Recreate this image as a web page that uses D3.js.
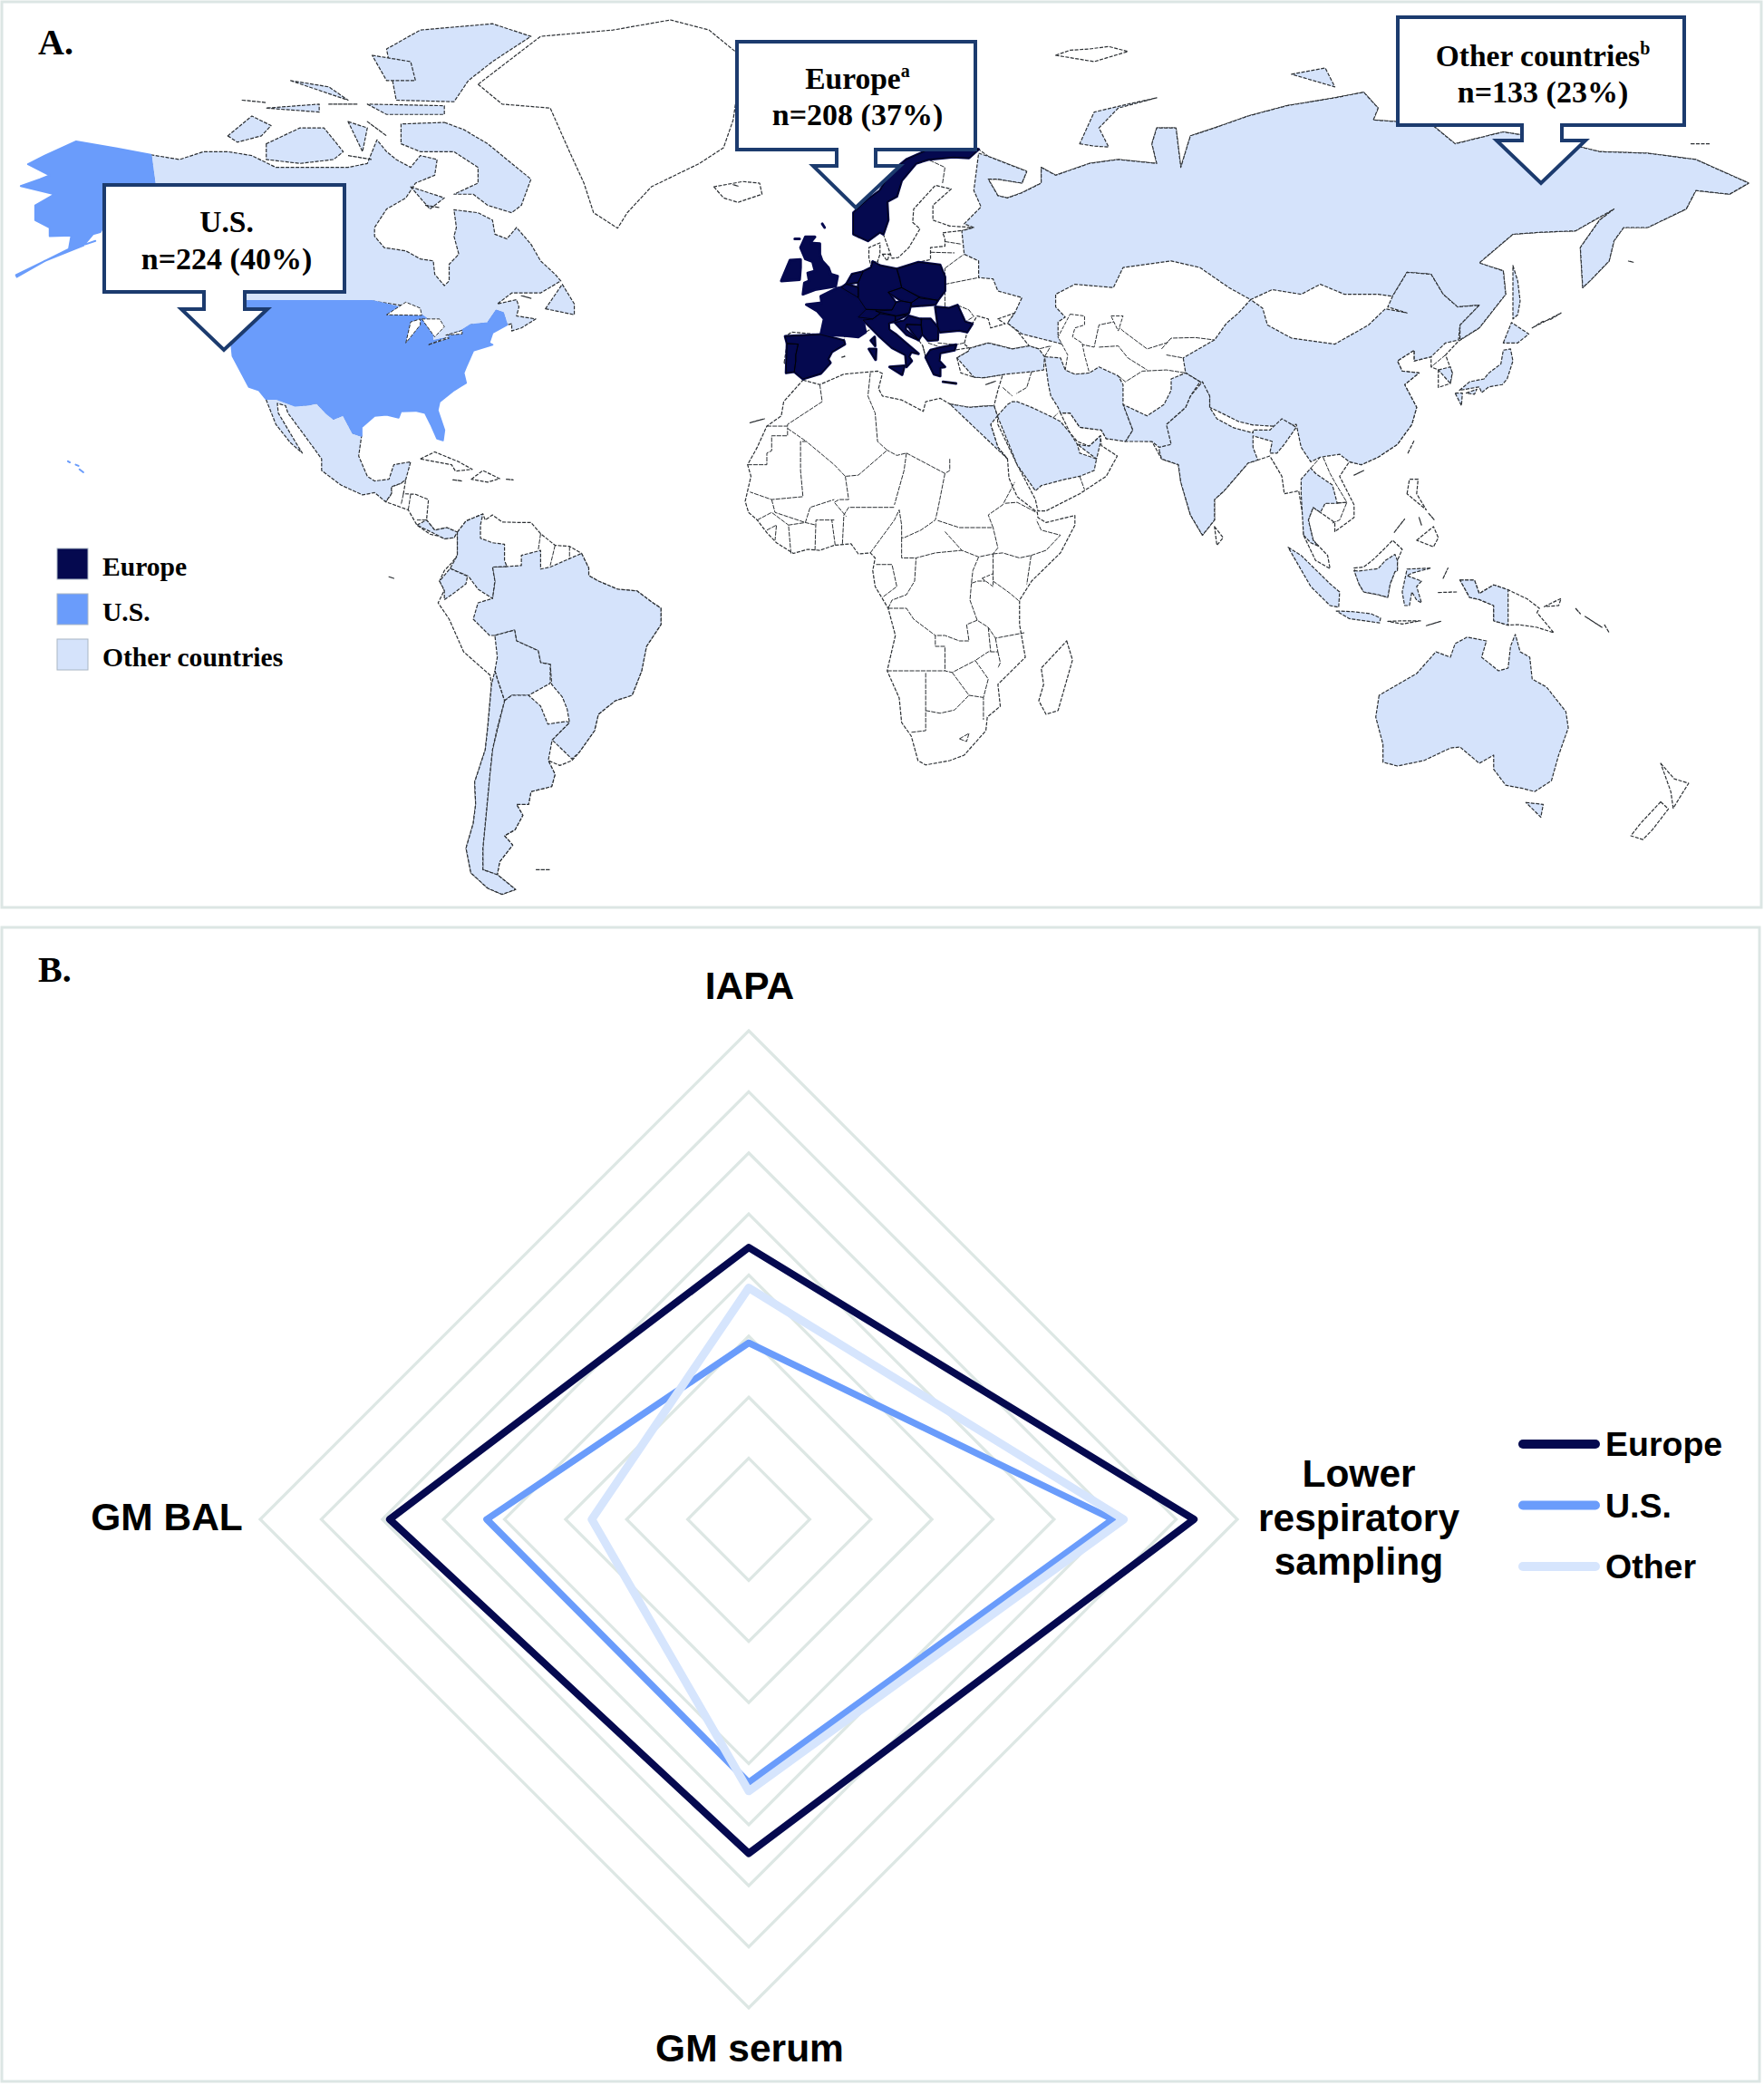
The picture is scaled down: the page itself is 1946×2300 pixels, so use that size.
<!DOCTYPE html>
<html>
<head>
<meta charset="utf-8">
<script src="https://cdn.jsdelivr.net/npm/d3@7"></script>
<style>
html, body { margin: 0; background: #fff; }
svg { display: block; }
.serif { font-family: "Liberation Serif", serif; font-weight: bold; fill: #000; }
.sans { font-family: "Liberation Sans", sans-serif; font-weight: bold; fill: #000; }
</style>
</head>
<body>
<svg id="chart" width="1946" height="2300"></svg>
<script>
// ---- radar data (percent of patients) ----
const axes = ["IAPA", "Lower respiratory sampling", "GM serum", "GM BAL"];
const europeValues = [44.5, 72.9, 54.7, 58.8];
const usValues = [28.9, 59.6, 43.1, 42.9];
const otherValues = [37.9, 61.4, 44.5, 25.7];
const ringLevels = [10, 20, 30, 40, 50, 60, 70, 80];

// ---- panel A legend and callout content ----
const mapLegend = ["Europe", "U.S.", "Other countries"];
const radarLegend = ["Europe", "U.S.", "Other"];

// ---- map outlines, [lon, lat] ----
const africa = [[-5.5,35.8],[-2,35],[3,36.8],[10,37.3],[11,36.9],[10.2,34.3],[11,33],[15,32.3],[19.5,30.3],[20,32],[23,32.6],[25,31.6],[29,31],[32,31.2],[34.2,31.3],[33.5,28],[35,24],[37,22],[37.3,18.7],[39,15.5],[43.2,12.5],[43.3,11.5],[45,10.5],[51,11.9],[51,10],[48,4.5],[42,-1],[39.5,-4.5],[39.5,-9],[40.7,-15],[35,-20],[35.5,-24],[32.8,-26],[32.5,-28.5],[28,-33],[25,-34],[20,-34.8],[18.4,-34],[17,-29.5],[15,-27],[14.5,-22.5],[12,-17.5],[13.7,-11],[12.2,-6],[9.5,-2],[9,1],[9.5,3.5],[8.5,4.5],[6,4.3],[4.5,6.3],[1,6],[-2,5],[-4.5,5.2],[-7.5,4.4],[-11,6.5],[-13,8.5],[-15,11],[-16.8,12.5],[-17.5,14.7],[-16.3,19],[-17,21],[-15,24],[-13,27.7],[-10,29.5],[-9.5,32],[-6.8,34]];
const eurasia = [[-9.4,38.7],[-8.8,41.9],[-9.2,43.1],[-7.8,43.8],[-1.8,43.4],[-1.1,46],[-2.5,47.3],[-4.8,48.4],[-1.6,48.7],[-1.8,49.7],[1.5,50.9],[3.5,51.5],[4.7,53],[7,53.4],[8.7,54],[8.2,55.5],[8.2,57],[10.5,57.7],[10.5,56],[10,54.9],[10.5,54.3],[14,53.8],[18.5,54.8],[21,55.2],[21,57],[24,57.2],[24,58.4],[23.5,59.2],[28,59.6],[30,60],[25,60.2],[21.5,61],[21.5,63],[25.3,65.2],[22,65.7],[17.5,62.5],[17.3,60.7],[18.8,59.8],[16.5,57],[14.3,55.5],[13,55.4],[11.2,59],[10.5,59.3],[8,58],[5.5,58.7],[5,62],[8,63.8],[10.5,65],[13,67.5],[16,69],[20,70.1],[25,71.1],[31,70.3],[33,69.4],[41,67.5],[40,66],[35,66.5],[33,66.5],[35,64.3],[37,64],[40,64.7],[44,66],[44,68],[47,67],[54,68.5],[60,69],[68,68.5],[67,71],[68,73],[72,73],[73,68],[75,72],[80,73],[87,74.5],[95,75.8],[105,76.8],[111,77.5],[114,75.5],[113,74],[125,73.5],[130,71],[140,72.5],[150,71.5],[160,70],[170,69.8],[180,69],[191,66],[187,64.5],[180,65],[178,62.5],[170,60],[165,60],[163,58],[162,55],[158,52],[156.5,51],[156,57],[160,61],[163,62.5],[155,59.5],[148,59.3],[142,59],[135,54.7],[140,53.5],[140.5,50],[135,44.5],[130.7,42.3],[128,40],[129.4,37],[129,35.2],[126.5,34.5],[126.5,37.5],[125,38],[125,39.7],[121.5,39],[121.5,40.8],[118,39],[119,37.3],[122.5,37],[119.5,35],[122,31],[121,28],[118,24.5],[114,22.3],[110.5,21],[108,21.5],[106,19],[109,14],[109,11.5],[105,8.7],[105,10.5],[102,12.5],[100.5,13.5],[99.5,11],[100.5,7],[103.5,4],[104,1.4],[101,3],[98.5,8],[98.5,11],[97.5,16.5],[94.5,16],[94,19],[91.5,22.5],[89,21.8],[87,21.3],[82,16.5],[80,15],[80,11],[77.5,8],[75,12],[73,18],[72.5,21],[69,22],[67,25],[62,25.2],[57.5,25.5],[56.5,27],[52,27.5],[50,30],[48,30],[50,26.5],[51.5,25],[54,24.2],[56.3,26],[56.5,24.3],[59.8,22.5],[57.5,19],[52,16],[45,12.8],[43.3,12.8],[42.8,15],[39,21],[35,28],[34.9,29.5],[34.2,31.3],[35,34],[36,36.7],[32,36.2],[30,36.3],[27.3,37],[26.5,39.5],[29,40.7],[29.1,41.1],[33,42],[38,41],[41.5,41.5],[39,44],[37,45.3],[38.5,47],[35,46],[36.5,45.2],[33.5,44.5],[33,46],[30.7,46.5],[28.6,43.8],[28,41.8],[29,41.2],[26,40.8],[23,40.3],[22.8,39],[24,38],[23,37.9],[23,36.5],[21.7,36.8],[21.2,38.3],[20,39.6],[19.4,41.5],[18.5,42.5],[16,43.4],[14.8,45],[13.6,45.4],[12.3,45.3],[12.4,44.2],[13.7,43.5],[16,41.9],[18.5,40.2],[17,40.5],[16.5,39.7],[17.1,39],[16,38],[15.8,40],[13,41.2],[10.5,43],[8.8,44.4],[7.5,43.8],[6,43],[3.2,43.2],[3,42.4],[3.2,41.8],[0.5,40.5],[-0.3,39.3],[0.2,38.7],[-1.8,36.9],[-5.5,36],[-7.3,37.2],[-9,37]];
const southAmerica = [[-77.3,8.6],[-75.5,10.8],[-72,12.2],[-71.5,11],[-70,12],[-68,10.6],[-64,10.5],[-62,10.5],[-60,8.3],[-57,6],[-54,5.8],[-51.5,4.4],[-50,1.5],[-50,0],[-48,-1],[-44,-2.5],[-40,-2.8],[-37,-4.8],[-35,-6],[-35,-9],[-38,-13],[-39,-17.5],[-41,-22],[-44.5,-23],[-48,-25.5],[-48.8,-28.5],[-52,-32.5],[-53.5,-34],[-56,-34.9],[-58.4,-34],[-57,-36.3],[-57.7,-38.2],[-62,-39],[-62.5,-41],[-65,-41],[-63.7,-42.7],[-65.3,-45],[-67.5,-46],[-65.8,-47.5],[-68.5,-50.2],[-69,-52.3],[-65.2,-54.7],[-68,-55.5],[-71,-54.5],[-74.5,-52],[-75.5,-48],[-74,-44],[-73.5,-41],[-73.7,-37.5],[-71.5,-32],[-71,-28],[-70.2,-20],[-70.5,-18.3],[-76,-14],[-79,-8],[-81.3,-5],[-80,-2.7],[-81,-1],[-80,1],[-78.5,2.5],[-77.3,4],[-77.5,7]];
const centralAmerica = [[-92.2,14.6],[-91,16],[-91,17.2],[-89,17.8],[-88,18.5],[-88.5,16],[-86,15.9],[-83.3,15],[-83.7,11],[-82,9],[-79.5,9.5],[-77.3,8.6],[-78,7.5],[-80,7.3],[-81,7.8],[-83,8.2],[-85.7,10],[-87.5,13],[-91,14]];
const whiteLands = [
  africa, eurasia, southAmerica, centralAmerica,
  [[-73,78.2],[-68,76],[-58,75.5],[-54,70],[-51,66],[-49,62],[-44,59.9],[-42,62],[-37,65.5],[-27,68.5],[-22,70.5],[-20,74],[-19,78],[-17,80],[-25,82.5],[-33,83.3],[-45,82.5],[-60,82],[-67,80.5]], // Greenland
  [[-24,65.5],[-22,64],[-19,63.4],[-14,64.5],[-14.5,66],[-18,66.2],[-22,66.4]], // Iceland
  [[11,79],[16,80],[24,80],[20,78],[16,76.7],[13,78]], // Svalbard
  [[47,80.5],[50,80.9],[54,81],[58,81.2],[62,80.8],[55,80],[48,80]], // Franz Josef
  [[49.3,-12],[50.5,-15.5],[47.5,-24.8],[45,-25.5],[43.5,-23],[44.5,-20],[44,-17],[46,-15.7]], // Madagascar
  [[172.7,-34.5],[175.5,-37],[178.5,-37.7],[177,-39.5],[175.3,-41.6],[174.8,-39],[174.7,-37.5]], // NZ north
  [[172.7,-40.6],[174.3,-41.7],[171,-45],[169,-46.6],[166.5,-46],[168.5,-44],[171,-42]], // NZ south
  [[-85,22],[-82,23.2],[-77,21.5],[-74.2,20.2],[-77.7,19.9],[-78.5,21],[-82,22.5]], // Cuba
  [[-74.4,18.5],[-72,20],[-68.5,18.6],[-71,18],[-74.4,18.3]], // Hispaniola
  [[-78.3,18.4],[-76.3,18.2],[-77,17.8]], [[-67.2,18.5],[-65.7,18.4],[-66,18]],
  [[80,9.7],[81.8,7.5],[80.5,6],[79.8,7.5]], // Sri Lanka
  [[109,1.5],[111,1.7],[113,3.2],[115.5,5.5],[117,7],[119,5.2],[118,3],[118,1],[117.5,0.8],[116.5,-1.5],[116,-4],[114,-3.5],[111,-3],[110,-1.5],[109,0]], // Borneo
  [[131,-0.8],[134,-0.8],[135,-3.3],[138,-1.7],[141,-2.6],[145,-4.3],[147.5,-6],[147,-6.8],[150.5,-10.5],[147,-9.5],[143,-9],[141,-9.1],[138,-8.3],[138,-5.5],[135,-4.4],[133,-4],[132,-2.8]], // New Guinea
  [[120,16],[120.5,18.5],[122.3,18.5],[122,16],[124,13],[121,13.7]], // Luzon
  [[122,7],[125.5,9.7],[126.5,7.5],[125.5,5.7],[124,6.5]], // Mindanao
  [[122.5,11.5],[123,10],[123.5,11.3]], [[124.5,12.3],[125.7,11],[124.8,10.3]], [[117.3,8.5],[119.5,11.2],[119.3,10]],
  [[148.5,-5.7],[152,-4.2],[151.5,-5.5],[149,-6.3]], [[155,-6],[156,-7],[155.5,-6.8]], [[157,-7.5],[160.5,-9.5],[158,-8.5]], [[161,-9],[162,-10.5],[161.5,-10]],
  [[124,-9.2],[127,-8.4],[124,-10.2]], [[116,-8.4],[119,-8.3],[122.8,-8.3],[119,-8.9],[116,-9]], [[127.5,-0.5],[128.5,1.5],[128,-0.8]], [[126.5,-3.1],[130.5,-3],[128,-3.6]],
  [[-91.5,-0.2],[-90.5,-0.5],[-91.2,-1]], [[-61,-51.5],[-58,-51.5],[-59,-52.3]], [[32.5,35],[34.5,35.6],[33.5,34.7]],
  [[2.5,39.6],[3.4,39.8],[3,39.3]], [[11,56],[12.5,56],[12,55],[11,55.3]], [[23.6,35.5],[26.3,35.2],[24.5,35]],
  [[138,75.5],[145,75.5],[150,75],[143,73.5]], [[179,71],[183,71],[180,70.8]], [[-16.5,28.3],[-13.5,29],[-15.5,28]],
  [[-20,65.8],[-19,65.6],[-19.5,65.5]], [[166,55],[167,54.8],[166.5,54.6]], [[146,44.5],[148,45.5],[150,46],[152,47],[154,49]]
];

const canada = [[-141,69.6],[-135,69],[-130,70],[-125,70],[-120,69.5],[-115,68],[-110,68],[-105,68],[-100,68],[-96,68.5],[-94,71.5],[-92,70],[-90,69],[-87,68],[-85,69.5],[-81.5,69],[-82,67],[-86,66],[-88,64],[-92,62.5],[-94.5,60],[-94.5,58.7],[-92.5,57],[-88,56.5],[-85,55.3],[-82.3,55],[-82,53],[-80,51.3],[-79,52],[-79,54.5],[-77,56],[-78,58.7],[-77.5,60],[-78,62.4],[-73,62],[-70,61],[-69.5,59],[-67,58.3],[-65,60],[-62,57.5],[-60,55],[-57,53],[-55.8,52],[-60,50.2],[-66,50.2],[-69,48.5],[-65,49.2],[-64.5,48],[-65,46.5],[-61,46],[-64,44.5],[-66,44],[-66,45.2],[-67,45],[-67.8,47],[-69.2,47.4],[-71,45.3],[-74.5,45],[-76.5,44],[-79,43.3],[-79,42.9],[-82.5,42.3],[-82.5,45.3],[-84.5,46.5],[-88.4,48.2],[-95,49],[-123,49],[-125,50],[-128,52],[-130.3,54.7],[-130,56],[-133.5,59],[-137.5,59],[-139,60],[-141,60.3]];
const mexico = [[-117.1,32.5],[-114.8,32.5],[-111,31.3],[-108.2,31.5],[-106.5,31.8],[-104.5,30],[-103,29],[-101,29.7],[-99,26.5],[-97.2,26],[-97.8,22.5],[-96,19],[-94.5,18.2],[-91.5,18.5],[-90.5,21],[-87,21.5],[-88,18.5],[-89,17.8],[-91,17.2],[-91,16],[-92.2,14.6],[-94.5,16.2],[-97,15.8],[-101.5,17.5],[-105.5,20],[-105.5,22],[-109,26],[-112.5,30],[-113,31.3],[-114.7,31.7],[-114.5,30],[-111,25],[-109.5,23],[-112,24.8],[-115,28],[-116,30.5]];
const brazil = [[-51.5,4.4],[-50,1.5],[-50,0],[-48,-1],[-44,-2.5],[-40,-2.8],[-37,-4.8],[-35,-6],[-35,-9],[-38,-13],[-39,-17.5],[-41,-22],[-44.5,-23],[-48,-25.5],[-48.8,-28.5],[-52,-32.5],[-53.5,-33.7],[-57.6,-30.2],[-54,-27],[-54.5,-24.5],[-55.5,-22.3],[-57.7,-20],[-58,-16.3],[-60,-16],[-60.5,-13.8],[-65,-12],[-65.4,-10],[-69.5,-11],[-70.6,-11],[-74,-8],[-73,-5],[-70,-4.2],[-69.5,-1],[-70,1.7],[-67,1.8],[-64,2],[-64,4],[-60,5],[-60,1.3],[-58,1.7],[-54,2.3]];
const colombia = [[-77.3,8.6],[-75.5,10.8],[-72,12.2],[-72.5,10],[-72.5,7.4],[-70,6.5],[-67.5,6.2],[-67.5,3],[-67,1.8],[-70,1.7],[-69.5,-1],[-70,-4.2],[-73,-2.5],[-75,-0.1],[-78.8,1.4],[-77.3,4],[-77.5,7]];
const ecuador = [[-78.8,1.4],[-75.2,-0.1],[-75.5,-1.5],[-78.3,-3.4],[-80,-4.4],[-80,-2.7],[-81,-1],[-80,1]];
const bolivia = [[-69.5,-11],[-65.4,-10],[-65,-12],[-60.5,-13.8],[-60,-16],[-58,-16.3],[-58,-19.8],[-62.5,-22],[-66,-22],[-67.5,-23],[-69,-19],[-69.5,-17.5],[-69,-15],[-69.5,-12.5]];
const argentina = [[-67.5,-23],[-66,-22],[-62.5,-22],[-60,-24],[-58.5,-27.3],[-54.7,-26.8],[-54,-27],[-57.6,-30.2],[-58.3,-33.5],[-58.4,-34],[-57,-36.3],[-57.7,-38.2],[-62,-39],[-62.5,-41],[-65,-41],[-63.7,-42.7],[-65.3,-45],[-67.5,-46],[-65.8,-47.5],[-68.5,-50.2],[-69,-52.3],[-72,-51.5],[-72,-48],[-71.5,-44],[-71,-40],[-70.5,-36],[-70,-32],[-69,-28]];
const chile = [[-69.5,-17.5],[-69,-19],[-67.5,-23],[-69,-28],[-70,-32],[-70.5,-36],[-71,-40],[-71.5,-44],[-72,-48],[-72,-51.5],[-69,-52.3],[-65.2,-54.7],[-68,-55.5],[-71,-54.5],[-74.5,-52],[-75.5,-48],[-74,-44],[-73.5,-41],[-73.7,-37.5],[-71.5,-32],[-71,-28],[-70.2,-20],[-70.5,-18.3]];
const russia = [[31,69.8],[33,69.4],[41,67.5],[40,66],[35,66.5],[33,66.5],[35,64.3],[37,64],[40,64.7],[44,66],[44,68],[47,67],[54,68.5],[60,69],[68,68.5],[67,71],[68,73],[72,73],[73,68],[75,72],[80,73],[87,74.5],[95,75.8],[105,76.8],[111,77.5],[114,75.5],[113,74],[125,73.5],[130,71],[140,72.5],[150,71.5],[160,70],[170,69.8],[180,69],[191,66],[187,64.5],[180,65],[178,62.5],[170,60],[165,60],[163,58],[162,55],[158,52],[156.5,51],[156,57],[160,61],[163,62.5],[155,59.5],[148,59.3],[142,59],[135,54.7],[140,53.5],[140.5,50],[135,44.5],[131,42.5],[131,45],[135,48.3],[130.5,48],[127.5,50],[125,53],[120,53.3],[117,49.7],[114,50],[107,50],[102,51.5],[98,50],[92,50.7],[87.5,49.2],[83,51],[77,54],[71,55],[61,54],[59,51],[51,51.5],[47,50],[47,48],[49,46.3],[47.5,45.5],[47.5,43],[48.5,41.8],[45,42.5],[40,43.5],[37,45.3],[38.5,47],[40,49.5],[35,50.5],[34,52.3],[31,52.5],[31,55],[28,56],[27.5,59.5],[30,60],[28,60.5],[31.5,62.8],[30,65],[29,69.2]];
const china = [[73.5,39.5],[74,37],[77,35.5],[79,33],[79,31],[81,30.2],[85,28.5],[88,27.9],[92,27.7],[97,28],[98,24],[100,21.5],[102,22.3],[106,22.8],[108,21.5],[110.5,21],[114,22.3],[118,24.5],[121,28],[122,31],[119.5,35],[122.5,37],[119,37.3],[118,39],[121.5,40.8],[121.5,39],[125,39.7],[128,42],[130.7,42.5],[131,45],[135,48.3],[130.5,48],[127.5,50],[125,53],[120,53.3],[117,49.7],[116,48],[120,47],[115.5,47.7],[112,45],[105,41.8],[96,42.8],[91,45],[90,47.8],[87.5,49.2],[85,47],[82.5,45.3],[80,42.5],[76,40.5]];
const india = [[68.5,23.5],[69,22],[72.5,21],[73,18],[75,12],[77.5,8],[80,11],[80,15],[82,16.5],[87,21.3],[89,21.8],[88,24],[88,26],[92,25],[91.5,23],[93,23],[94.5,24.5],[97,27.5],[94,29],[91.5,27],[88,27],[88,26.5],[84,27.4],[80.5,29],[79,31],[79,33],[77.5,35.5],[75,33],[74,31],[70,28],[71,24.5]];
const pakistan = [[61,31.5],[63,27],[61.5,25],[67,25],[68.5,24],[71,24.5],[70,28],[74,31],[75,33],[77,35.5],[74,37],[71,36],[71,34],[69.5,31.5],[66,29.5],[61,29.5]];
const iran = [[44.7,39.7],[48,39.5],[49,37.5],[51,36.8],[54,37],[56,38],[60,36.5],[61,35],[61,31.5],[63,27],[61.5,25],[57.5,25.5],[56.5,27],[52,27.5],[50,30],[48,30],[47.5,31],[46,33],[45.5,35],[44.5,37.5]];
const turkey = [[26.5,39.5],[29,40.7],[29.1,41.1],[33,42],[38,41],[41.5,41.5],[43.5,41],[44.7,39.7],[44.5,37.5],[42,37.2],[36.7,36.8],[36,36.7],[32,36.2],[30,36.3],[27.3,37]];
const saudi = [[34.9,29.5],[37,31.5],[38,32],[39,32],[42,31],[46.5,29.2],[48,28.5],[50,26.5],[51.5,24.5],[52,23],[55.5,22],[55,20],[52,19],[49,18.5],[44,17.4],[42.8,16.5],[39,21],[35,28]];
const uae = [[51.5,24.5],[54,24.2],[56.3,26],[56.3,24.8],[55.5,22],[52,23]];
const egypt = [[25,31.6],[29,31],[32,31.2],[34.2,31.3],[34.9,29.5],[33.5,28],[35,24],[37,22],[25,22]];
const thailand = [[98.5,8],[100,6.5],[101.5,5.9],[100.5,7],[99.5,11],[100.5,13.5],[102,12.5],[103,14.3],[105.5,14.3],[104.5,17.5],[101,19.5],[100,20.4],[98,18.5],[98,16],[99,12]];
const australia = [[114.2,-22],[113.5,-26],[115,-31],[115,-34.3],[118,-35],[123.5,-34],[129,-31.7],[131,-31.5],[135,-34.5],[138,-33],[138,-35.5],[140.5,-38],[144,-38.5],[146.5,-39],[150,-37.3],[151.5,-33],[153.5,-28],[153,-25],[149,-20.5],[146,-19],[145.5,-15],[143.5,-14],[142.5,-10.8],[141.5,-13],[141,-17],[139,-17.5],[135.5,-15],[136.5,-12],[132.5,-11.3],[130,-12.5],[129,-15],[126,-14],[122,-18],[119,-20]];
const otherLands = [
  canada, mexico, brazil, colombia, ecuador, bolivia, argentina, chile,
  russia, china, india, pakistan, iran, turkey, saudi, uae, egypt, thailand, australia,
  [[-80,73.7],[-76,72.8],[-71,71],[-67,69],[-62,66.5],[-64,63],[-66,62],[-71,63],[-74,64.5],[-78,64.5],[-73,66],[-73,68],[-78,70],[-85,70],[-89,71],[-89,73.5],[-85,73.8]], // Baffin
  [[-117,71],[-117,69],[-110,68.5],[-103,69],[-101,70],[-105,73],[-110,73],[-115,73]], // Victoria
  [[-125,72],[-123,71.2],[-118,72],[-116,73.3],[-120,74.5],[-124,74]], // Banks
  [[-90,76.5],[-78,76.3],[-75,78.5],[-70,80],[-62,82],[-70,83],[-85,82.5],[-92,81],[-87,78]], // Ellesmere
  [[-96,76],[-92,74.7],[-80,74.7],[-80,75.8],[-90,76.5]], // Devon
  [[-117,75.5],[-106,75],[-106,76],[-116,76.5]], [[-95,80.5],[-87,80],[-86,78.5],[-92,78.5],[-95,80]],
  [[-100,73.8],[-96,73],[-97,70],[-101,72]], [[-96,73.8],[-92,72],[-90,73.5]],
  [[-87,65.5],[-80,64],[-83,62.5],[-87,63.5]], [[-59,47.7],[-53,46.7],[-53,48.5],[-55.5,51.5],[-57.5,50]],
  [[-128,50.8],[-123.5,48.4],[-125,48.7]], [[-133,54],[-131.5,54],[-131.5,52.5]], [[-112,78.5],[-104,78],[-100,76.5],[-108,76.5]],
  [[-122,76.5],[-117,76.2],[-119,75.6]], [[-104,76],[-98,76],[-100,75]], [[-100,69.5],[-95,69],[-97,68.3]], [[-84,63],[-81,62.7],[-83,62.2]], [[-64,49.8],[-62,49.4],[-63.5,49.3]],
  [[52,71],[55,70.7],[58,70.6],[56,73],[60,75.5],[68,76.8],[62,76],[55,75],[52,72]], // Novaya Zemlya
  [[96,79],[103,79.5],[105,78],[100,78]], [[142,54.3],[143,52],[143.5,49],[143,46.7],[142,46],[142,50]], // Sakhalin
  [[126.5,37.5],[129,38],[129.4,37],[129,35.2],[126.5,34.5]], // South Korea
  [[130.9,34],[133,35.5],[136,36],[137,37],[139.5,38.5],[140,40.8],[141.5,41],[142,39],[140.8,36],[139.8,35],[137,34.6],[135.5,33.6],[135,34.6],[131,34]], // Honshu
  [[130,33.5],[131.5,33.5],[131.3,31.3],[130.3,31.3]], [[132.3,33.5],[134.5,34.2],[134,33.3],[133,32.8]], [[140,42],[141.7,45.4],[145.3,43.5],[143,42],[141,42.5]],
  [[109,19.2],[111,20],[110,18.3]], [[120.2,23],[121.5,25.2],[121,22]], // Hainan, Taiwan
  [[95.3,5.6],[98,4],[104,-1.5],[106,-3],[105.8,-5.8],[104,-5.5],[100,-2],[97,2]], // Sumatra
  [[105.3,-6.5],[108.5,-6.6],[112.5,-7],[114.5,-7.8],[114.3,-8.7],[108,-7.9],[105.5,-7]], // Java
  [[109,1],[110,0.9],[114,1.4],[115.5,3],[117.5,4.2],[118,3],[118,1],[117.5,0.8],[116.5,-1.5],[116,-4],[114,-3.5],[111,-3],[110,-1.5],[109,0]], // Kalimantan
  [[120,1.3],[125,1.5],[121,0.5],[120,0],[123,-1],[122,-2],[123,-5],[122,-4.5],[121,-3],[120.5,-5.5],[119.5,-5.5],[119,-3],[120,0]], // Sulawesi
  [[131,-0.8],[134,-0.8],[135,-3.3],[138,-1.7],[141,-2.6],[141,-9.1],[138,-8.3],[138,-5.5],[135,-4.4],[133,-4],[132,-2.8]], // Papua
  [[-85.7,10],[-83.7,11],[-82,9],[-79.5,9.5],[-77.3,8.6],[-78,7.5],[-80,7.3],[-81,7.8],[-83,8.2]], // Costa Rica, Panama
  [[144.7,-40.7],[148.3,-41],[147.8,-43],[146,-43.5]] // Tasmania
];

const usLands = [
  [[-123,49],[-95,49],[-89.5,48],[-84.5,46.5],[-82.5,45.3],[-82.5,42.3],[-79,42.9],[-79,43.3],[-76.5,44],[-74.5,45],[-71,45.3],[-69.2,47.4],[-67.8,47],[-67,45],[-70,43.7],[-70.7,42],[-70,41.7],[-74,40.7],[-75.5,38],[-76,37],[-75.5,35.3],[-78,34],[-81,32],[-81.4,30.5],[-80,27],[-80.3,25.2],[-81.5,25.5],[-82.8,28],[-84,30],[-86,30.4],[-89,30.3],[-89.5,29.2],[-92,29.7],[-94.5,29.5],[-97.2,27.5],[-97.2,26],[-99,26.5],[-101,29.7],[-103,29],[-104.5,30],[-106.5,31.8],[-108.2,31.5],[-111,31.3],[-114.8,32.5],[-117.1,32.5],[-118.5,34],[-120.6,34.6],[-122,36.8],[-124,39.8],[-124.4,43],[-124,46.3],[-124.7,48.3],[-123,48.2]],
  [[-141,69.6],[-148,70.4],[-156.5,71.3],[-163,69.5],[-166.5,68.4],[-162,67],[-164,66.5],[-168,65.6],[-161,64.5],[-165,63],[-165,61],[-162,60],[-162,58.7],[-157.5,58.8],[-158,56.8],[-163,55],[-155,57.3],[-153,59],[-151.5,59.3],[-150,61],[-146,60.7],[-140,59.7],[-136,58],[-133,55.5],[-130.3,54.7],[-130,56],[-133.5,59],[-137.5,59],[-139,60],[-141,60.3]], // Alaska
  [[-163,55],[-169,52.9],[-168.8,52.6],[-163,54.5]], [[-154.5,57.5],[-152.5,58],[-153,57]], [[-155.8,20.2],[-155,19.7],[-155.6,19]], [[-156.6,21],[-156,20.8],[-156.4,20.6]], [[-158.2,21.6],[-157.8,21.4],[-158,21.3]]
];

const europeLands = [
  [[-5.5,50],[-3,50.7],[1.3,51.2],[1.7,52.7],[0.3,53],[-0.2,54],[-1.5,55],[-2,56],[-2,57.6],[-4,57.7],[-3,58.6],[-5,58.6],[-6,57],[-5,55.3],[-3.5,54.9],[-3,53.5],[-4.5,53.2],[-4.2,52],[-5.2,51.7],[-3,51.4]], // UK
  [[-1.5,60.5],[-1,60],[-1.5,59.8]], [[-7.2,58.3],[-6.2,58.3],[-7.2,57.4]],
  [[-10,52],[-6.2,52.2],[-6,54],[-6,55.2],[-8.2,55.1],[-10,54]], // Ireland
  [[-1.8,43.4],[-1.1,46],[-2.5,47.3],[-4.8,48.4],[-1.6,48.7],[-1.8,49.7],[1.5,50.9],[2.5,51],[4.2,50],[6,49.5],[8.2,49],[7.6,47.6],[6,46.3],[7,45.8],[7.5,43.8],[6,43],[3.2,43.2],[3,42.4]], // France
  [[-1.8,43.4],[3,42.4],[3.2,41.8],[0.5,40.5],[-0.3,39.3],[0.2,38.7],[-1.8,36.9],[-5.5,36],[-7.3,37.2],[-7,39],[-7,40],[-6.5,41.8],[-8.8,41.9],[-9.2,43.1],[-7.8,43.8]], // Spain
  [[-8.8,41.9],[-6.5,41.8],[-7,40],[-7,39],[-7.3,37.2],[-9,37],[-9.4,38.7]], // Portugal
  [[2.5,51],[3.5,51.5],[6,51],[6,50.2],[6,49.5],[4.2,50]], // Belgium
  [[3.5,51.5],[4.7,53],[7,53.4],[6,51.8],[6,51]], // Netherlands
  [[6,49.5],[6,50.2],[6,51.8],[7,53.4],[8.7,54],[9,54.9],[10.5,54.3],[14,53.8],[14.6,52.5],[15,51],[12.2,50.3],[13.8,48.7],[13,47.5],[7.6,47.6],[8.2,49]], // Germany
  [[14,53.8],[18.5,54.8],[23,54.4],[24,52.6],[24,50.5],[22.5,49.1],[19,49.4],[15,51],[14.6,52.5]], // Poland
  [[12.2,50.3],[15,51],[18.8,49.6],[17,48.7],[15,49],[13.8,48.7]], // Czechia
  [[17,48.1],[17,48.7],[18.8,49.6],[22.5,49.1],[22,48.4],[19,48]], // Slovakia
  [[9.6,47.3],[13,47.5],[13.8,48.7],[15,49],[17,48.7],[16.5,47],[14,46.5],[10.5,46.9]], // Austria
  [[6,46.3],[7.6,47.6],[9.6,47.5],[10.5,46.9],[9,46],[7,45.8]], // Switzerland
  [[7,45.8],[9,46],[10.5,46.9],[13.7,46.5],[13.7,45.7],[12.3,45.3],[12.4,44.2],[13.7,43.5],[16,41.9],[18.5,40.2],[17,40.5],[16.5,39.7],[17.1,39],[16,38],[15.8,40],[13,41.2],[10.5,43],[8.8,44.4],[7.5,43.8]], // Italy
  [[12.5,38],[15.6,38.2],[15.1,36.7],[12.5,37.6]], [[8.2,41],[9.7,41],[9.6,39.2],[8.5,39]], [[8.6,42.4],[9.4,43],[9.5,41.5],[8.8,41.5]],
  [[13.7,45.7],[13.7,46.5],[16.3,46.7],[15.5,45.5]], // Slovenia
  [[13.6,45.4],[15.5,45.7],[16.5,46.5],[19.2,45.9],[19,45],[16,45.1],[15.8,44.2],[18.5,42.5],[16,43.4],[14.8,45]], // Croatia
  [[16,45.1],[19,45],[19.3,43.5],[18.5,42.5],[15.8,44.2]], // Bosnia
  [[19,46],[21,46],[22.6,44.5],[22.5,42.5],[20.5,42.4],[19.3,43.5],[19,45]], // Serbia
  [[22,48],[24.9,47.8],[26.6,48.3],[28.2,45.5],[29.7,45.2],[28.6,43.8],[27,44.1],[23,43.8],[22.6,44.5],[21,46]], // Romania
  [[20,39.6],[21,40.8],[23.5,41.3],[26.3,41.7],[26,40.8],[23,40.3],[22.8,39],[24,38],[23,37.9],[23,36.5],[21.7,36.8],[21.2,38.3]], // Greece
  [[23.6,35.5],[26.3,35.2],[24.5,35]], // Crete
  [[5,59],[5,62],[8,63.8],[10.5,65],[13,67.5],[16,69],[20,70.1],[25,71.1],[31,70.3],[29,69.2],[25.7,69.3],[20.5,69],[18,68.5],[15,66.3],[14,64.2],[12,63.5],[12.2,61],[11.2,59],[10.5,59.3],[8,58],[5.5,58.7]] // Norway
];

const lakes = [
  [[-92,46.7],[-88,48.8],[-85,47.8],[-84.7,46.6],[-87,46.5]], [[-88,42],[-87,45.5],[-85,46],[-85,45],[-86.5,42]], [[-84.7,46],[-81,46],[-80,44.7],[-82,43],[-83.5,44]],
  [[-83.3,41.7],[-79,42.8],[-79.5,42.9],[-82.5,42.5]], [[-79.7,43.3],[-76.3,43.5],[-76.3,44.1],[-79,43.9]],
  [[50,46.8],[53,46.5],[53,45],[51,44.5],[50.5,43],[52.5,42],[53,40],[54,37],[51,36.8],[49,37.5],[49.5,40],[47.5,43],[47,45]], // Caspian
  [[58.5,46.5],[61,46.5],[60,44],[58.5,44]], [[31.7,-0.5],[34,0.4],[34,-2],[32,-2.6]]
];

// borders of the countries left white
const borderLines = [
  [[-2,35],[-1.5,32],[-8.7,28],[-8.7,27.3]], [[-13,27.7],[-8.7,27.7]], [[-17,21],[-13,21],[-13,23],[-12,23.4],[-12,26],[-8.7,26],[-8.7,27.3]], [[-8.7,27.3],[-4.8,25],[-6,25],[-6,20],[-5.5,15.5],[-12,15],[-16.5,16.3]],
  [[8.5,37],[8,33],[9.5,30],[10,25],[12,23.5],[6,19.2],[3.3,19],[1,21],[-4.8,25]], [[25,22],[25,20],[24,19.5],[16,23],[14,22.6],[12,23.5]], [[3.3,19],[4,15],[2,15],[1,14.5],[3.5,11.7]],
  [[16,23],[15.5,20],[13.5,14]], [[24,19.5],[22.5,13],[22,11],[19,9],[15.5,7.5],[15,7.5]], [[22.5,10.9],[27,9.5],[34,9.5],[33,12],[36,14],[38.5,18]],
  [[24,8.7],[27.5,5],[31,3.7],[34,4.3],[35,5.5],[34,9.5]], [[34,4.3],[36,4.5],[39.5,3.5],[41.9,4],[41,-1.6]], [[41.9,4],[45,5],[48,8],[44,9],[43,11]], [[36.5,14.3],[39,14.5],[43,12.5]],
  [[34,-1],[37.6,-3.3],[39.3,-4.6]], [[31,3.7],[29.8,1],[29.5,-1.4],[30.8,-1],[34,-1],[34,1],[34,4.3]], [[29.5,-1.4],[29.2,-4.5],[30.7,-8.2],[33,-9.5],[34.5,-11.5],[40.5,-10.5]],
  [[34.5,-11.5],[35,-14],[33,-14],[30.3,-15.6],[33,-19],[32,-22.4],[32,-26.5]], [[33,-9.5],[33.5,-14]], [[35,-14],[35.5,-16],[35,-17]],
  [[30.7,-8.2],[28.5,-9],[29,-12],[27,-12],[24,-11],[22,-11],[22,-13],[24,-13],[24,-17.5]], [[12.2,-6],[16,-6],[17.5,-8],[22,-11]], [[12,-17.5],[18,-17.5],[24,-17.5],[25.5,-17.8],[30.3,-15.6]],
  [[20,-17.9],[20,-22],[20,-28.5],[17,-28.8]], [[25.5,-17.8],[29,-22],[32,-22.4]], [[20,-24.8],[23,-25.3],[26,-24.7],[29,-22]], [[27,-30],[29,-29],[28.5,-30.5],[27,-30]],
  [[12.2,-6],[13,-4.5],[16,-3.5],[17.7,-1],[18,3.5],[22,4.5],[27.5,5]], [[15,7.5],[15,3.5],[18,3.5]], [[9.7,2.2],[13,2.2],[14,-2],[11,-4]], [[8.5,4.5],[13.5,11],[14.5,13],[15,10],[15,7.5]],
  [[2.7,6.3],[3,12],[4,13.5],[13.5,13.5]], [[1.2,6],[0.5,11]], [[-3,5],[-2.8,11],[1,11]], [[-8,4.4],[-8.5,10],[-5,10.5],[-2.8,10]], [[-15,11],[-12,12.5],[-11.3,12],[-8.5,10]],
  [[-13,9],[-11,10],[-11.3,7]], [[-12,15],[-11.3,12.5],[-5,10.5],[-4,13.5],[1,15]],
  [[51,42],[55,41.3],[56,45],[59,45.5],[61,44],[66,41],[70,42],[71,42.8],[76,42.9],[80,42.5]], [[56,41.3],[60,41.5],[62,39.5],[66,37.5]], [[60,36.5],[61.5,35.5],[65,37.3],[70,37.5],[74,37]],
  [[70,40],[73.5,39.5]], [[69,41],[71,42.8]], [[42,37.2],[41,34.5],[38.8,33.4]], [[36,34.5],[38,33]], [[52,19],[53,16.7]], [[46.5,29.2],[47.5,30]],
  [[24,51.5],[31,52.5]], [[24,53.9],[27,55.5],[28,56]], [[21,56.3],[26,56.2]], [[24,57.9],[27.5,57.5]], [[24,50.5],[24,48],[22,48]], [[24,52.6],[24,53.9]], [[26.6,48.3],[29,47.5],[30,46.4],[28.2,45.5]],
  [[28,42],[26.3,41.7],[22.5,42]], [[19.4,41.5],[20,39.6]], [[20.5,42],[23,41.3]], [[23.5,66],[24,68],[20.5,69]], [[8.7,54.9],[10,54.9]],
  [[100,20.4],[102,22.3]], [[105.5,14.3],[107.5,14.5],[105,18],[104,19.5],[102.5,22.4]], [[103,14.3],[107.5,14.5],[106,11],[104.5,10.4]],
  [[41.5,41.5],[43.5,41],[46,41.5]], [[44.7,39.7],[46,41.5]], [[-60,8.3],[-60.5,5]], [[-57,6],[-58,2]], [[-54,5.8],[-54,2.3]], [[-88.5,16],[-89,14]], [[-87,15.9],[-87.5,13]], [[-83.7,11],[-85.7,11]], [[128,40],[125,38]]
];

const latStops = [-56, -43.5, -35, 0, 14.7, 25, 36, 49, 60, 66, 71.3, 77.7, 83.3];
const yStops = [990, 905, 845, 635, 553, 487, 418, 332, 251, 202, 156, 100, 22];

// ---- colours ----
const colorEurope = "#05094f";
const colorUS = "#6a9cfb";
const colorOther = "#d5e3fb";
const colorGrid = "#dde7e4";
const colorPanel = "#dce6e4";
const colorBox = "#1c3b6e";

const svg = d3.select("#chart");

// panel frames
[[2, 2, 1941, 999], [2, 1023, 1939, 1273]].forEach(p => {
  svg.append("rect").attr("x", p[0]).attr("y", p[1]).attr("width", p[2]).attr("height", p[3])
    .attr("fill", "#fff").attr("stroke", colorPanel).attr("stroke-width", 3);
});

// ---- panel A: map ----
const xMap = d3.scaleLinear().domain([0, 10]).range([915, 968.1]);
const yMap = d3.scaleLinear().domain(latStops).range(yStops);
const projection = d3.geoTransform({
  point(lon, lat) { this.stream.point(xMap(lon), yMap(lat)); }
});
const geoPath = d3.geoPath(projection);
const polygon = ring => ({ type: "Polygon", coordinates: [ring] });

svg.append("clipPath").attr("id", "mapClip").append("rect")
  .attr("x", 4).attr("y", 4).attr("width", 1938).attr("height", 996);
const map = svg.append("g").attr("clip-path", "url(#mapClip)");

function drawLands(rings, fill, stroke, width, dash) {
  map.append("g").selectAll("path").data(rings).join("path")
    .attr("d", d => geoPath(polygon(d)))
    .attr("fill", fill)
    .attr("stroke", stroke)
    .attr("stroke-width", width)
    .attr("stroke-linejoin", "round")
    .attr("stroke-dasharray", dash);
}

drawLands(whiteLands, "#fff", "#2b2f33", 1.2, "4 1.5");
map.append("path")
  .attr("d", geoPath({ type: "MultiLineString", coordinates: borderLines }))
  .attr("fill", "none").attr("stroke", "#2b2f33").attr("stroke-width", 1).attr("stroke-dasharray", "5 1.2");
drawLands(otherLands, colorOther, "#2b2f33", 1.2, "4 1.5");
drawLands(usLands, colorUS, colorUS, 2, null);
drawLands(europeLands, colorEurope, colorEurope, 3, null); // fattens the small shapes
drawLands(europeLands.slice(5), "none", "#000", 0.8, null);
drawLands(lakes, "#fff", "#2b2f33", 1, "4 1.5");

// callouts
const callouts = [
  { x0: 115, x1: 380, y0: 204, y1: 322, sx0: 225, sx1: 270, sy: 341, hx0: 200, hx1: 295, tx: 247, ty: 386, cx: 250, by: [256, 297], title: "U.S.", sup: "", count: "n=224 (40%)" },
  { x0: 813, x1: 1076, y0: 46, y1: 165, sx0: 923, sx1: 966, sy: 183, hx0: 897, hx1: 993, tx: 944, ty: 229, cx: 946, by: [98, 138], title: "Europe", sup: "a", count: "n=208 (37%)" },
  { x0: 1542, x1: 1858, y0: 19, y1: 138, sx0: 1679, sx1: 1723, sy: 155, hx0: 1651, hx1: 1749, tx: 1700, ty: 202, cx: 1702, by: [73, 113], title: "Other countries", sup: "b", count: "n=133 (23%)" }
];
callouts.forEach(c => {
  svg.append("path")
    .attr("d", d3.line()([[c.x0, c.y0], [c.x1, c.y0], [c.x1, c.y1], [c.sx1, c.y1], [c.sx1, c.sy], [c.hx1, c.sy], [c.tx, c.ty], [c.hx0, c.sy], [c.sx0, c.sy], [c.sx0, c.y1], [c.x0, c.y1]]) + "Z")
    .attr("fill", "#fff").attr("stroke", colorBox).attr("stroke-width", 4);
  const t = svg.append("text").attr("class", "serif").attr("x", c.cx).attr("y", c.by[0])
    .attr("text-anchor", "middle").attr("font-size", 33.5).text(c.title);
  if (c.sup) t.append("tspan").attr("dy", -13).attr("font-size", 20).text(c.sup);
  svg.append("text").attr("class", "serif").attr("x", c.cx).attr("y", c.by[1])
    .attr("text-anchor", "middle").attr("font-size", 34).text(c.count);
});

svg.append("text").attr("class", "serif").attr("x", 42).attr("y", 60).attr("font-size", 40).text("A.");
svg.append("text").attr("class", "serif").attr("x", 42).attr("y", 1083).attr("font-size", 40).text("B.");

// map legend
const swatchY = d3.scalePoint().domain(mapLegend).range([605, 705]);
const swatchColor = d3.scaleOrdinal().domain(mapLegend).range([colorEurope, colorUS, colorOther]);
const mapKey = svg.append("g").selectAll("g").data(mapLegend).join("g");
mapKey.append("rect").attr("x", 63).attr("y", d => swatchY(d)).attr("width", 34).attr("height", 34)
  .attr("fill", d => swatchColor(d)).attr("stroke", "#a9b6c4").attr("stroke-width", 1);
mapKey.append("text").attr("class", "serif").attr("x", 113).attr("y", d => swatchY(d) + 30)
  .attr("font-size", 29.6).text(d => d);

// ---- panel B: radar ----
const cx = 826, cy = 1676;
const rScale = d3.scaleLinear().domain([0, 80]).range([0, 539]);
const angle = d3.scalePoint().domain(axes).range([0, 1.5 * Math.PI]);
const radarLine = d3.lineRadial().angle((d, i) => angle(axes[i])).radius(d => rScale(d)).curve(d3.curveLinearClosed);

const radar = svg.append("g").attr("transform", `translate(${cx},${cy})`);
radar.append("g").selectAll("path").data(ringLevels).join("path")
  .attr("d", d => radarLine(axes.map(() => d)))
  .attr("fill", "none").attr("stroke", colorGrid).attr("stroke-width", 3.2);

const radarSeries = [
  { values: europeValues, color: colorEurope, width: 8 },
  { values: usValues, color: colorUS, width: 7.5 },
  { values: otherValues, color: "#d6e5fd", width: 9 }
];
radar.append("g").selectAll("path").data(radarSeries).join("path")
  .attr("d", d => radarLine(d.values))
  .attr("fill", "none").attr("stroke", d => d.color).attr("stroke-width", d => d.width)
  .attr("stroke-linejoin", "round");

// axis labels
const axisLabel = (lines, x, ys) => lines.forEach((s, i) => {
  svg.append("text").attr("class", "sans").attr("x", x).attr("y", ys[i])
    .attr("text-anchor", "middle").attr("font-size", 42.5).text(s);
});
axisLabel(["IAPA"], cx + 1, [1102]);
axisLabel(["Lower", "respiratory", "sampling"], 1499, [1640, 1689, 1737]);
axisLabel(["GM serum"], cx + 1, [2274]);
axisLabel(["GM BAL"], 184, [1688]);

// radar legend
const keyY = d3.scalePoint().domain(radarLegend).range([1593, 1728]);
const keyColor = d3.scaleOrdinal().domain(radarLegend).range([colorEurope, colorUS, "#d6e5fd"]);
const radarKey = svg.append("g").selectAll("g").data(radarLegend).join("g");
radarKey.append("line").attr("x1", 1680).attr("x2", 1760).attr("y1", d => keyY(d)).attr("y2", d => keyY(d))
  .attr("stroke", d => keyColor(d)).attr("stroke-width", 10).attr("stroke-linecap", "round");
radarKey.append("text").attr("class", "sans").attr("x", 1771).attr("y", d => keyY(d) + 13)
  .attr("font-size", 37.5).text(d => d);
</script>
</body>
</html>
